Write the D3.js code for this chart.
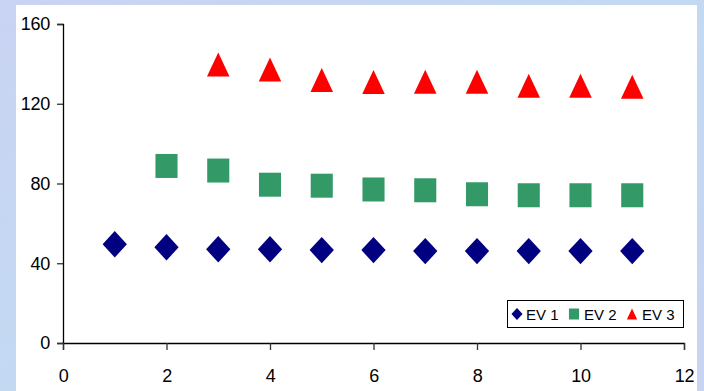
<!DOCTYPE html>
<html><head><meta charset="utf-8">
<script src="https://cdn.jsdelivr.net/npm/d3@7"></script>
<style>
html,body{margin:0;padding:0;background:#c6d6f1;}
svg{display:block;}
</style></head>
<body>
<svg id="chart" width="704" height="391"></svg>
<script>
const xValues = [1,2,3,4,5,6,7,8,9,10,11];
const ev1 = [49.5,48,47,47,46.6,46.6,46.1,46.1,46.1,46.1,46.1];
const ev2 = [null,88.8,86.5,79.4,78.9,77,76.6,74.6,74.1,74.1,74.1];
const ev3 = [null,null,139.7,137.2,131.9,130.9,131,131,129,129,128.5];
const seriesNames = ["EV 1","EV 2","EV 3"];
const xTicks = [0,2,4,6,8,10,12];
const yTicks = [0,40,80,120,160];

const svg = d3.select("#chart");
const defs = svg.append("defs");
const grad = defs.append("linearGradient").attr("id","bg").attr("x1","0").attr("y1","0").attr("x2","1").attr("y2","1");
grad.append("stop").attr("offset","0").attr("stop-color","#c9d3f3");
grad.append("stop").attr("offset","0.5").attr("stop-color","#c3d9f2");
grad.append("stop").attr("offset","1").attr("stop-color","#c8d4f1");
svg.append("rect").attr("width",704).attr("height",391).attr("fill","url(#bg)");
svg.append("rect").attr("x",16).attr("y",5).attr("width",681).attr("height",386).attr("fill","#ffffff");

const x = d3.scaleLinear().domain([0,12]).range([63,684]);
const y = d3.scaleLinear().domain([0,160]).range([343,24]);

const font = "'Liberation Sans', Arial, sans-serif";

// axes
const yAxis = svg.append("g").attr("transform","translate(63,0)")
  .call(d3.axisLeft(y).tickValues(yTicks).tickSize(6).tickPadding(7).tickFormat(d3.format("d")));
const xAxis = svg.append("g").attr("transform","translate(0,343)")
  .call(d3.axisBottom(x).tickValues(xTicks).tickSize(7).tickPadding(18).tickFormat(d3.format("d")));
[yAxis,xAxis].forEach(a=>{
  a.attr("font-size",null).attr("font-family",null);
  a.select(".domain").attr("stroke","#000").attr("stroke-width",1.3);
  a.selectAll(".tick line").attr("stroke","#333").attr("stroke-width",1.3);
  a.selectAll("text").attr("fill","#000").style("font-family",font).style("font-size","18px").style("letter-spacing","-0.3px");
});
xAxis.selectAll("text").attr("dy","0");
xAxis.selectAll("text").attr("y",39);

function drawMarker(g, type, cx, cy, s, color){
  if(type===0){
    const h = s*0.55;
    g.append("path").attr("d",`M${cx},${cy-h}L${cx+h*0.92},${cy}L${cx},${cy+h}L${cx-h*0.92},${cy}Z`).attr("fill",color);
  } else if(type===1){
    g.append("rect").attr("x",cx-s*0.46).attr("y",cy-s*0.5).attr("width",s*0.92).attr("height",s).attr("fill",color);
  } else {
    g.append("path").attr("d",`M${cx},${cy-s*0.5}L${cx+s*0.47},${cy+s*0.5}L${cx-s*0.47},${cy+s*0.5}Z`).attr("fill",color);
  }
}
const colors = ["#000080","#339966","#ff0000"];
const data = [ev1,ev2,ev3];
const marks = svg.append("g");
data.forEach((arr,si)=>{
  arr.forEach((v,i)=>{
    if(v==null) return;
    drawMarker(marks, si, x(xValues[i]), y(v), 24, colors[si]);
  });
});

// legend
const lg = svg.append("g");
lg.append("rect").attr("x",507.5).attr("y",300.5).attr("width",176).attr("height",27).attr("fill","#fff").attr("stroke","#000").attr("stroke-width",1);
const lx = [517,574,632];
const tx = [526,584,642];
seriesNames.forEach((n,i)=>{
  drawMarker(lg, i, lx[i], 314, 11, colors[i]);
  lg.append("text").attr("x",tx[i]).attr("y",319.5).text(n)
    .style("font-family",font).style("font-size","15px").attr("fill","#000");
});
</script>
</body></html>
